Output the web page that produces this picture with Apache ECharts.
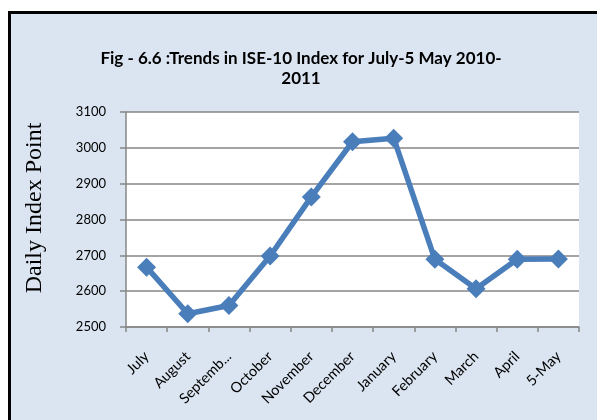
<!DOCTYPE html>
<html>
<head>
<meta charset="utf-8">
<script src="https://cdn.jsdelivr.net/npm/echarts@6/dist/echarts.min.js"></script>
<style>
html,body{margin:0;padding:0;background:#fff;}
#frame{position:absolute;left:8px;top:11px;width:589px;height:409px;background:#dbe5f1;border-left:3px solid #000;border-top:3px solid #000;box-sizing:border-box;}
#chart{position:absolute;left:0;top:0;width:597px;height:420px;}
</style>
</head>
<body>
<div id="frame"></div>
<div id="chart"></div>
<script>
var categories = ["July","August","Septemb...","October","November","December","January","February","March","April","5-May"];
var indexValues = [2667, 2537, 2560, 2698, 2863, 3017, 3027, 2689, 2607, 2689, 2690];
var yTicks = {min: 2500, max: 3100, interval: 100};
var titleText = "Fig - 6.6 :Trends in ISE-10 Index for July-5 May 2010-\n2011";
var yAxisTitle = "Daily Index Point";

var chart = echarts.init(document.getElementById('chart'), null, {renderer: 'canvas'});
chart.setOption({
  backgroundColor: 'transparent',
  animation: false,
  title: {
    text: titleText,
    left: 296,
    top: 44,
    textAlign: 'center',
    textStyle: {fontFamily: 'Lato', fontWeight: 'bold', fontSize: 17, color: '#000', lineHeight: 20}
  },
  graphic: [{
    type: 'text',
    x: 35,
    y: 208,
    rotation: Math.PI / 2,
    style: {text: yAxisTitle, fontFamily: 'Liberation Serif', fontSize: 24, fill: '#000', align: 'center', verticalAlign: 'middle'}
  }],
  grid: {left: 126, top: 112, right: 18, bottom: 93, show: true, backgroundColor: '#fff', borderWidth: 0},
  xAxis: {
    type: 'category',
    data: categories,
    boundaryGap: true,
    axisLine: {lineStyle: {color: '#868686', width: 1.5}},
    axisTick: {show: true, length: 5, alignWithLabel: false, lineStyle: {color: '#868686', width: 1.5}},
    axisLabel: {rotate: 45, fontFamily: 'Lato', fontSize: 14.5, color: '#000', margin: 27, interval: 0}
  },
  yAxis: {
    type: 'value',
    min: yTicks.min, max: yTicks.max, interval: yTicks.interval,
    axisLine: {show: true, lineStyle: {color: '#868686', width: 1.5}},
    axisTick: {show: true, length: 6, lineStyle: {color: '#868686', width: 1.5}},
    axisLabel: {fontFamily: 'Lato', fontSize: 13, color: '#000', margin: 20, formatter: function (v) { return String(v); }},
    splitLine: {lineStyle: {color: '#868686', width: 1.5}}
  },
  series: [{
    type: 'line',
    data: indexValues,
    symbol: 'diamond',
    symbolSize: 19,
    lineStyle: {color: '#4a7ebb', width: 5.5},
    itemStyle: {color: '#4a7ebb'}
  }]
});
</script>
</body>
</html>
